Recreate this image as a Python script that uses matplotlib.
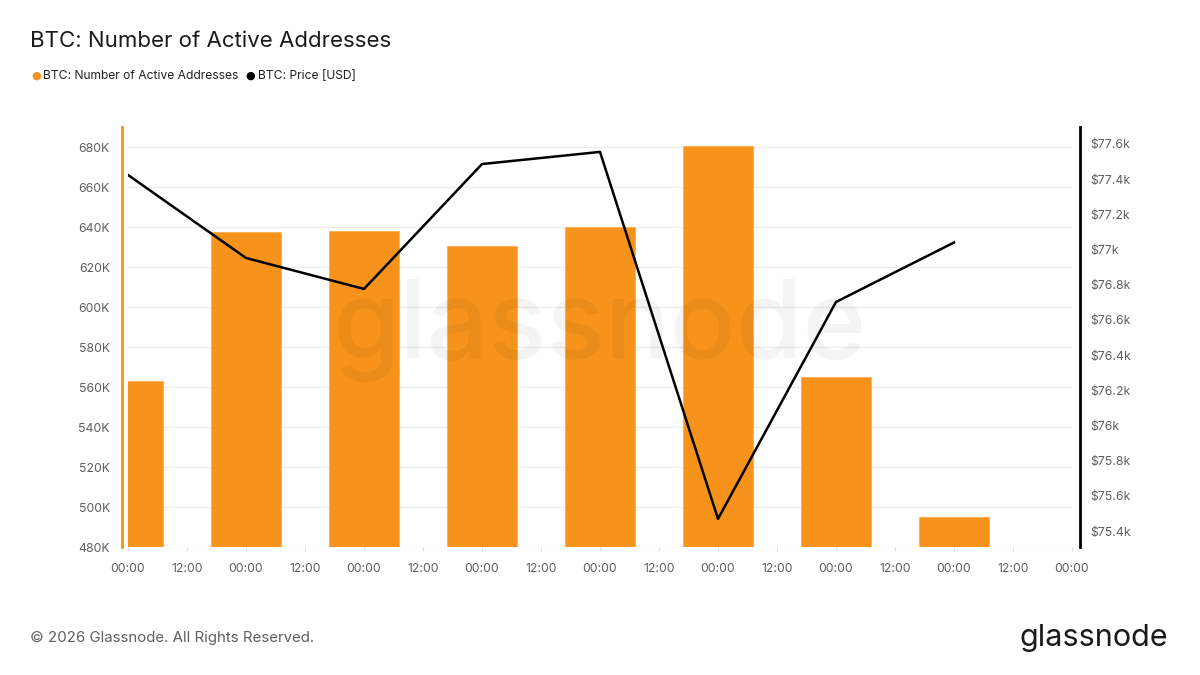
import matplotlib.pyplot as plt
import numpy as np

plt.rcParams['font.family'] = ['Inter', 'DejaVu Sans']

# daily values (bars centred on 00:00 of each day)
days = [0, 1, 2, 3, 4, 5, 6, 7]
active_addresses = [563000, 637500, 638000, 630500, 640000, 680500, 565000, 495000]
price_usd = [77424, 76952, 76776, 77486, 77555, 75469, 76702, 77040]

x_ticks = [i * 0.5 for i in range(17)]
x_labels = ['00:00' if i % 2 == 0 else '12:00' for i in range(17)]
left_ticks = list(range(480000, 680001, 20000))
right_ticks = [75400 + 200 * i for i in range(12)]

ORANGE = '#f7931a'
GRAY = '#5f5f5f'

fig = plt.figure(figsize=(12, 6.75), dpi=100)
ax = fig.add_axes([128 / 1200, 1 - 547 / 675, 944 / 1200, 420 / 675])

ax.bar(days, active_addresses, width=0.6, color=ORANGE, edgecolor='#fbb25c',
       linewidth=0.8, zorder=2)
ax.set_xlim(0, 8)
ax.set_ylim(480000, 690000)
ax.set_yticks(left_ticks)
ax.set_yticklabels([f'{int(v / 1000)}K' for v in left_ticks])
ax.set_xticks(x_ticks)
ax.set_xticklabels(x_labels)
ax.grid(axis='y', color='#ececec', linewidth=0.9, zorder=0)
ax.set_axisbelow(True)
for s in ['top', 'bottom', 'right']:
    ax.spines[s].set_visible(False)
ax.spines['left'].set_position(('outward', 4.5))
ax.spines['left'].set_color(ORANGE)
ax.spines['left'].set_linewidth(2)
ax.tick_params(axis='y', length=0, pad=8.5, labelsize=8.8, labelcolor=GRAY)
ax.tick_params(axis='x', length=3, color='#dddddd', pad=8.5, labelsize=8.8,
               labelcolor=GRAY)

ax2 = ax.twinx()
ax2.plot(days, price_usd, color='black', linewidth=1.8, zorder=3)
ax2.set_ylim(75400 - 16 / 176 * 1000, 77600 + 17 / 176 * 1000)
ax2.set_yticks(right_ticks)
ax2.set_yticklabels([f'${round(v / 1000, 1):g}k' for v in right_ticks])
for s in ['top', 'bottom', 'left']:
    ax2.spines[s].set_visible(False)
ax2.spines['right'].set_position(('outward', 6))
ax2.spines['right'].set_color('black')
ax2.spines['right'].set_linewidth(2)
ax2.tick_params(axis='y', length=0, pad=7, labelsize=8.8, labelcolor=GRAY)

# title, legend, footer
fig.text(30 / 1200, 1 - 41 / 675, 'BTC: Number of Active Addresses',
         fontsize=16, color='#1a1a1a', va='center')
fig.text(31 / 1200, 1 - 76 / 675, '●', fontsize=8, color=ORANGE, va='center',
         family=['DejaVu Sans'])
fig.text(43 / 1200, 1 - 76 / 675, 'BTC: Number of Active Addresses',
         fontsize=8.7, color='#222222', va='center')
fig.text(245 / 1200, 1 - 76 / 675, '●', fontsize=8, color='black', va='center',
         family=['DejaVu Sans'])
fig.text(258 / 1200, 1 - 76 / 675, 'BTC: Price [USD]',
         fontsize=8.7, color='#222222', va='center')

fig.text(600 / 1200, 1 - 330 / 675, 'glassnode', fontsize=78, color='#000000',
         alpha=0.045, ha='center', va='center', fontweight='medium', zorder=10)

fig.text(30 / 1200, 1 - 638 / 675, '© 2026 Glassnode. All Rights Reserved.',
         fontsize=10.8, color=GRAY, va='center')
fig.text(1168 / 1200, 1 - 638 / 675, 'glassnode', fontsize=22, color='#1a1a1a',
         ha='right', va='center')

fig.savefig('out.png', dpi=100, facecolor='white')
